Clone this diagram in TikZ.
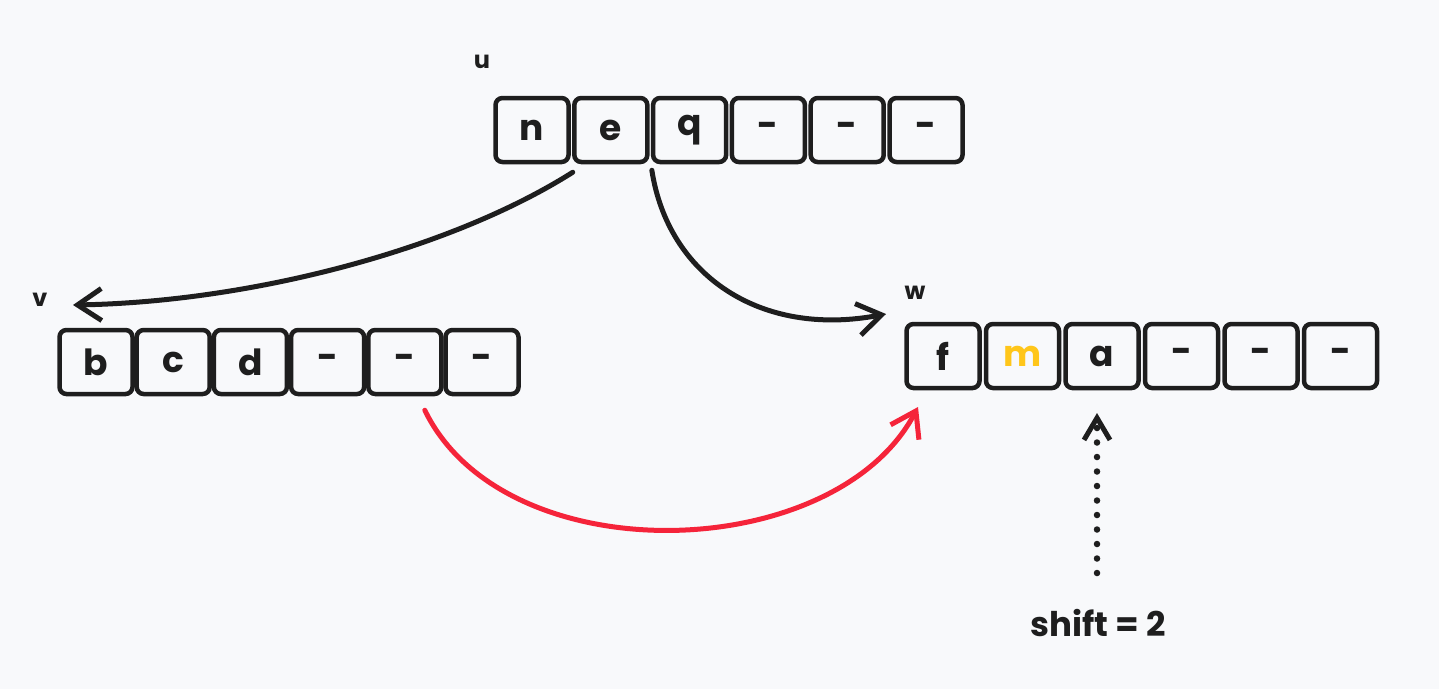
\documentclass[tikz,border=0pt]{standalone}
\usepackage{fontspec}
\setmainfont{Poppins}
\usetikzlibrary{arrows.meta,calc}
\definecolor{bgcol}{HTML}{F8F9FB}
\definecolor{ink}{HTML}{1E1E1E}
\definecolor{redline}{HTML}{F5243A}
\definecolor{mark}{HTML}{FFC61A}
\begin{document}
\begin{tikzpicture}[x=1pt,y=-1pt,
  cell/.style={draw=ink,line width=4.5pt,rounded corners=7pt,
    minimum width=73pt,minimum height=64pt,inner sep=0pt,
    font=\fontsize{36}{42}\selectfont\bfseries,text=ink},
  tag/.style={font=\fontsize{24}{28}\selectfont\bfseries,text=ink},
  link/.style={line width=5pt,draw=ink,line cap=round,
    -{Straight Barb[length=24pt,width=32pt,line width=5pt]}},
  redlink/.style={link,draw=redline},
  pointer/.style={line width=6.5pt,draw=ink,line cap=round,
    dash pattern=on 0pt off 14.5pt,
    -{Straight Barb[length=22pt,width=26pt,line width=5pt]}},
]
\fill[bgcol] (0,0) rectangle (1439,689);
\useasboundingbox (0,0) rectangle (1439,689);

% array u
\foreach \t [count=\i] in {n,e,q,-,-,-}
  \node[cell] (u\i) at ({532+78.8*(\i-1)},130) {\t};
% array v
\foreach \t [count=\i] in {b,c,d,-,-,-}
  \node[cell] (v\i) at ({96+77.2*(\i-1)},362) {\t};
% array w
\foreach \t [count=\i] in {f,,a,-,-,-}
  \node[cell] (w\i) at ({943+79.5*(\i-1)},356) {\t};
\node[cell,draw=none,text=mark] (wm) at (w2) {m};

% array names
\node[tag] (lu) at (482,62) {u};
\node[tag] (lv) at (40,300) {v};
\node[tag] (lw) at (915,293) {w};

% connectors
\coordinate (uout1) at ($(u1.south east)+(2,8)$);
\coordinate (uout2) at ($(u3.south west)+(1,6)$);
\coordinate (vin) at (73,305);
\coordinate (win) at (886,314);
\coordinate (vout) at ($(v5.south)+(20,14)$);
\coordinate (wred) at (918,407);
\coordinate (shiftfoot) at (1097,573);
\coordinate (shifttip) at (1097,413);

\draw[link] (uout1) .. controls (450,250) and (250,302) .. (vin);
\draw[link] (uout2) .. controls (668,275) and (760,338) .. (win);
\draw[redlink] (vout) .. controls (505,575) and (835,565) .. (wred);
\draw[pointer] (shiftfoot) -- (shifttip);

\node[font=\fontsize{34}{40}\selectfont\bfseries,text=ink] (shift) at (1098,623) {shift = 2};
\end{tikzpicture}
\end{document}
